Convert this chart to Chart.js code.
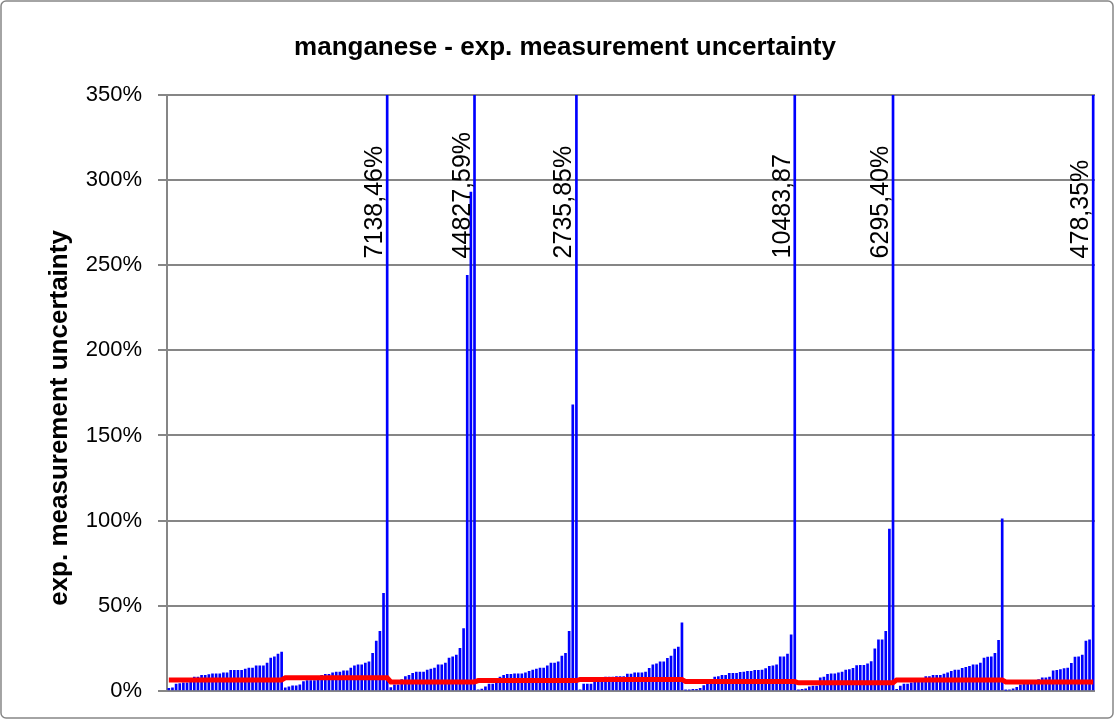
<!DOCTYPE html>
<html>
<head>
<meta charset="utf-8">
<title>manganese - exp. measurement uncertainty</title>
<script src="https://cdn.jsdelivr.net/npm/chart.js@4.4.1/dist/chart.umd.min.js"></script>
<style>
  html, body { margin: 0; padding: 0; background: #fff; }
  #wrap { width: 1115px; height: 720px; }
</style>
</head>
<body>
<div id="wrap"><canvas id="uncChart" width="1115" height="720"></canvas></div>
<script>
// expanded measurement uncertainty per lab result (%), sorted inside each series
const series1 = [1.4, 1.8, 4.0, 4.3, 4.7, 4.7, 5.6, 8.0, 8.0, 9.1, 9.1, 9.5, 10.0, 10.0, 10.0, 10.6, 10.6, 12.0, 12.0, 12.0, 12.0, 12.8, 13.4, 13.4, 14.6, 14.6, 14.6, 16.3, 19.2, 20.0, 21.6, 22.7];
const series2 = [1.8, 2.3, 2.9, 2.9, 3.5, 5.4, 6.0, 6.0, 6.0, 6.6, 9.1, 9.7, 9.7, 10.5, 11.0, 11.0, 11.7, 11.7, 13.4, 14.6, 15.2, 15.2, 16.3, 17.0, 22.0, 29.2, 35.0, 57.2, 7138.46];
const series3 = [1.9, 3.5, 3.5, 6.6, 8.4, 9.1, 10.3, 11.0, 11.0, 11.0, 12.1, 12.8, 13.4, 15.2, 15.2, 16.3, 19.2, 20.0, 21.0, 25.0, 36.6, 244, 293, 44827.59];
const series4 = [0.6, 1.0, 2.3, 4.0, 4.0, 4.5, 8.0, 9.1, 9.7, 9.7, 10.0, 10.0, 10.0, 10.6, 11.5, 12.1, 12.8, 13.4, 13.4, 14.6, 16.3, 16.3, 17.0, 20.4, 22.0, 35.0, 168, 2735.85];
const series5 = [0.6, 4.0, 4.0, 4.0, 5.4, 6.6, 7.2, 8.0, 8.0, 8.0, 8.4, 8.4, 8.4, 9.8, 9.8, 10.5, 10.5, 10.5, 11.0, 13.2, 15.2, 15.8, 17.0, 17.0, 19.1, 20.4, 24.5, 25.7, 40.0];
const series6 = [0.4, 0.4, 0.8, 0.8, 1.4, 3.1, 4.7, 6.4, 8.0, 8.4, 9.1, 9.1, 10.3, 10.3, 10.3, 10.9, 11.0, 11.5, 11.5, 12.0, 12.0, 12.1, 13.0, 14.4, 14.6, 15.2, 20.0, 20.0, 21.6, 32.9, 10483.87];
const series7 = [0.4, 0.8, 1.2, 2.3, 2.7, 2.7, 7.6, 8.0, 9.7, 10.0, 10.0, 10.5, 11.0, 12.1, 12.5, 13.2, 14.8, 15.0, 15.0, 15.8, 17.2, 24.7, 30.0, 30.0, 35.0, 95.0, 6295.40];
const series8 = [0.8, 2.7, 4.0, 4.0, 4.7, 5.4, 6.4, 7.0, 8.4, 8.4, 9.1, 9.1, 9.1, 9.8, 10.5, 11.5, 12.1, 12.1, 13.2, 13.8, 14.4, 15.2, 15.2, 16.3, 19.2, 19.8, 20.0, 22.0, 29.7, 101];
const series9 = [0.2, 0.4, 1.2, 2.0, 3.5, 4.0, 4.0, 5.4, 6.0, 6.6, 7.6, 7.6, 8.0, 11.7, 12.0, 12.5, 13.0, 13.4, 16.1, 19.8, 20.0, 21.0, 29.2, 29.9, 478.35];

// red reference level per series (%)
const targetLevels = [6.4, 7.6, 5.2, 6.0, 6.7, 5.4, 4.7, 6.4, 5.2];

// labels shown next to the bars that go off the top of the scale
const outlierLabels = ['7138,46%', '44827,59%', '2735,85%', '10483,87', '6295,40%', '478,35%'];

const groups = [series1, series2, series3, series4, series5, series6, series7, series8, series9];
const uncertainty = [].concat(...groups);
const target = groups.flatMap((g, i) => g.map(() => targetLevels[i]));
const categories = uncertainty.map((_, i) => i + 1);

const FONT = '"Liberation Sans", Arial, sans-serif';
const GRID = '#868686';

// labels for clipped bars, written upwards just left of the bar
const outlierLabelPlugin = {
    id: 'outlierLabels',
    afterDatasetsDraw(chart) {
        const meta = chart.getDatasetMeta(1);
        const y = chart.scales.y;
        const ctx = chart.ctx;
        let k = 0;
        ctx.save();
        ctx.font = '25px ' + FONT;
        ctx.fillStyle = '#000';
        ctx.textAlign = 'left';
        ctx.textBaseline = 'alphabetic';
        uncertainty.forEach((v, i) => {
            if (v <= y.max) return;
            const bar = meta.data[i];
            ctx.save();
            ctx.translate(bar.x - 5, y.getPixelForValue(254));
            ctx.rotate(-Math.PI / 2);
            ctx.fillText(outlierLabels[k++], 0, 0);
            ctx.restore();
        });
        ctx.restore();
    }
};

// outer frame, chart title and y axis title
const framePlugin = {
    id: 'frame',
    beforeDraw(chart) {
        const ctx = chart.ctx;
        ctx.save();
        ctx.fillStyle = '#fff';
        ctx.fillRect(0, 0, chart.width, chart.height);
        ctx.restore();
    },
    afterDraw(chart) {
        const ctx = chart.ctx;
        ctx.save();
        ctx.strokeStyle = GRID;
        ctx.lineWidth = 1.5;
        ctx.beginPath();
        ctx.roundRect(1, 1, chart.width - 3, chart.height - 3, 5);
        ctx.stroke();

        ctx.fillStyle = '#000';
        ctx.textAlign = 'center';
        ctx.textBaseline = 'middle';
        ctx.font = 'bold 26px ' + FONT;
        ctx.fillText('manganese - exp. measurement uncertainty', 565, 48);

        ctx.translate(60, 418);
        ctx.rotate(-Math.PI / 2);
        ctx.fillText('exp. measurement uncertainty', 0, 0);
        ctx.restore();
    }
};

new Chart(document.getElementById('uncChart'), {
    type: 'bar',
    data: {
        labels: categories,
        datasets: [
            {
                type: 'line',
                label: 'target',
                data: target,
                borderColor: '#ff0000',
                borderWidth: 5,
                pointRadius: 0,
                tension: 0,
                order: 0
            },
            {
                label: 'exp. measurement uncertainty',
                data: uncertainty,
                backgroundColor: '#0000ff',
                borderWidth: 0,
                barThickness: 2,
                order: 1
            }
        ]
    },
    options: {
        responsive: false,
        animation: false,
        events: [],
        layout: { padding: { top: 95, right: 20, bottom: 25, left: 0 } },
        plugins: {
            legend: { display: false },
            tooltip: { enabled: false },
            title: { display: false }
        },
        scales: {
            x: { display: false },
            y: {
                min: 0,
                max: 350,
                afterFit(scale) { scale.width = 167; },
                border: { color: GRID, width: 2 },
                grid: { color: GRID, lineWidth: 2, tickLength: 9 },
                ticks: {
                    stepSize: 50,
                    padding: 16,
                    color: '#000',
                    font: { family: FONT, size: 22 },
                    callback: v => v + '%'
                }
            }
        }
    },
    plugins: [outlierLabelPlugin, framePlugin]
});
</script>
</body>
</html>
